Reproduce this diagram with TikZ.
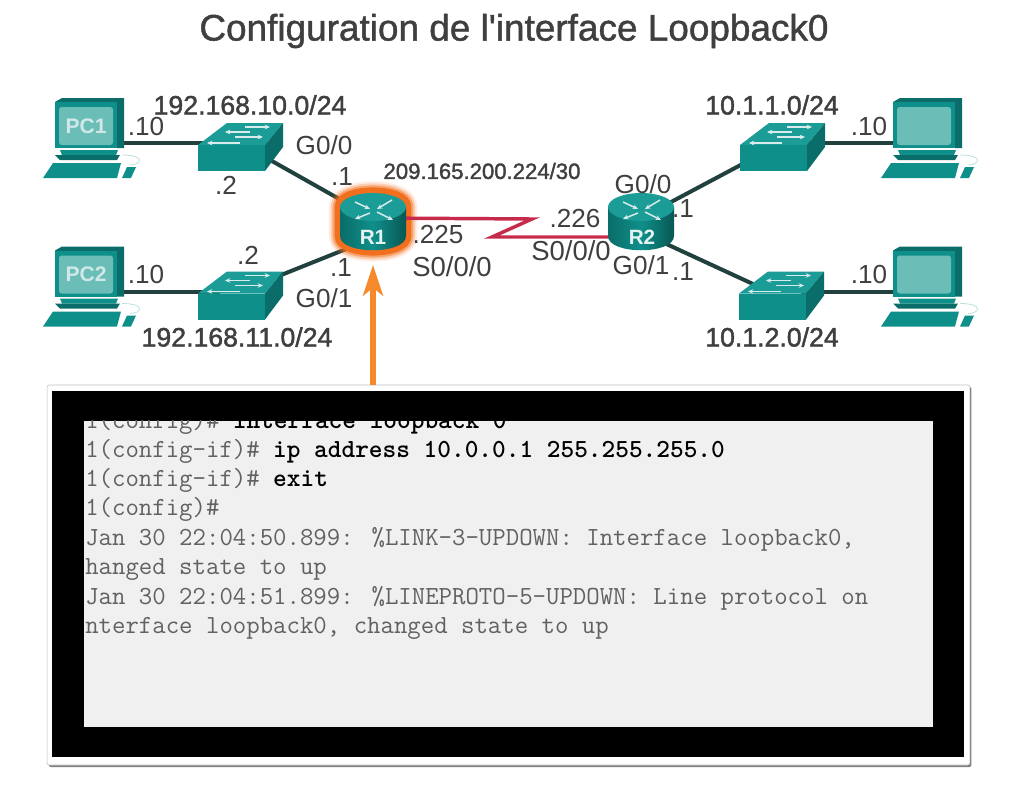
\documentclass[tikz,border=0pt]{standalone}
\usepackage{fontspec}
\setmainfont{Liberation Sans}
\newfontfamily\medfont[FakeBold=1.6]{Liberation Sans}
\newfontfamily\titlefont[FakeBold=1.2]{Liberation Sans}
\usetikzlibrary{arrows.meta,shadows}

\definecolor{tealmid}{HTML}{0F8F8A}
\definecolor{tealdark}{HTML}{0A6D69}
\definecolor{teallite}{HTML}{1C9C96}
\definecolor{tealscreen}{HTML}{6BBDB7}
\definecolor{labelgray}{HTML}{3F3F3F}
\definecolor{glow}{HTML}{F26F1E}
\definecolor{pointer}{HTML}{F58A2C}
\definecolor{serial}{HTML}{C72B4B}
\definecolor{linkgray}{HTML}{21413F}

\tikzset{
	devbox/.style={inner sep=0pt, minimum width=30pt, minimum height=20pt},
	lanlink/.style={color=linkgray, line width=3pt},
	seriallink/.style={color=serial, line width=2.6pt, line join=miter},
	addr/.style={font=\fontsize{19.6}{20}\selectfont, text=labelgray, inner sep=0pt},
	netlabel/.style={font=\medfont\fontsize{20}{20}\selectfont, text=labelgray, inner sep=0pt},
	iconlabel/.style={font=\bfseries\fontsize{15.8}{16}\selectfont, text=white!82!teal, inner sep=0pt},
	routerlabel/.style={font=\bfseries\fontsize{15.5}{16}\selectfont, text=white!90!teal, inner sep=0pt},
	termline/.style={font=\ttfamily\fontsize{19.55}{20}\selectfont, text=black!62, anchor=base west, inner sep=0pt},
	devarrow/.style={-{Stealth[length=4pt,width=3.5pt]}, white!85!teal, line width=1.1pt},
	pcicon/.pic={
		\fill[tealdark] (-33,-41) -- (-26,-45) -- (36,-45) -- (36,5) -- (29,5) -- cycle;
		\fill[tealmid] (-33,-41) rectangle (29,5);
		\fill[tealscreen, rounded corners=2pt] (-29,-36) rectangle (25,2);
		\fill[tealmid] (-28,7) -- (30,7) -- (28,12) -- (-26,12) -- cycle;
		\fill[tealdark] (-33,12) -- (32,12) -- (29,17) -- (-28,17) -- cycle;
		\fill[tealmid] (-35,20) -- (33,20) -- (29,35) -- (-45,35) -- cycle;
		\fill[tealmid] (39,24) -- (48,24) -- (43,35) -- (34,35) -- cycle;
		\draw[teallite!30, line width=0.6pt] (34,12) .. controls (58,12) and (54,22) .. (42,22);
	},
	switchicon/.pic={
		\fill[teallite] (-42,2) -- (-13,-20) -- (43,-20) -- (25,2) -- cycle;
		\fill[tealmid] (-42,2) rectangle (25,28);
		\fill[tealdark] (25,2) -- (43,-20) -- (43,4) -- (25,28) -- cycle;
		\draw[devarrow] (5,-16) -- (30,-16);
		\draw[devarrow] (10,-11) -- (-15,-11);
		\draw[devarrow] (-5,-6) -- (23,-6);
		\draw[devarrow] (0,0) -- (-33,0);
	},
	routericon/.pic={
		\shade[left color=tealdark, right color=tealdark!80!black, middle color=tealmid]
			(-33,-11) -- (-33,18) .. controls (-33,37) and (33,37) .. (33,18) -- (33,-11) -- cycle;
		\fill[teallite] (0,-11) ellipse [x radius=33, y radius=14];
		\draw[devarrow] (-18,-16) -- (-3,-9);
		\draw[devarrow] (-3,-5) -- (-18,1);
		\draw[devarrow] (19,-18) -- (4,-9);
		\draw[devarrow] (4,-6) -- (20,2);
	},
	routerglow/.pic={
		\draw[glow, opacity=0.12, line width=17pt, line join=round] (-33,-11) .. controls (-33,-30) and (33,-30) .. (33,-11) -- (33,18) .. controls (33,37) and (-33,37) .. (-33,18) -- cycle;
		\draw[glow, opacity=0.25, line width=14pt, line join=round] (-33,-11) .. controls (-33,-30) and (33,-30) .. (33,-11) -- (33,18) .. controls (33,37) and (-33,37) .. (-33,18) -- cycle;
		\draw[glow, opacity=0.45, line width=11pt, line join=round] (-33,-11) .. controls (-33,-30) and (33,-30) .. (33,-11) -- (33,18) .. controls (33,37) and (-33,37) .. (-33,18) -- cycle;
		\draw[glow, line width=8pt, line join=round] (-33,-11) .. controls (-33,-30) and (33,-30) .. (33,-11) -- (33,18) .. controls (33,37) and (-33,37) .. (-33,18) -- cycle;
	},
}

\begin{document}
\begin{tikzpicture}[x=0.75pt, y=-0.75pt]
	\useasboundingbox (0,0) rectangle (1032,796);

	% title
	\node[font=\titlefont\fontsize{27.7}{28}\selectfont, text=labelgray, inner sep=0pt] (TITLE) at (514,31) {Configuration de l'interface Loopback0};

	% devices
	\node[devbox] (PC1) at (88,143) {};
	\node[devbox] (PC2) at (88,291.5) {};
	\node[devbox] (PC3) at (926,143) {};
	\node[devbox] (PC4) at (926,291.5) {};
	\node[devbox] (SW1) at (240,143) {};
	\node[devbox] (SW2) at (240,291.5) {};
	\node[devbox] (SW3) at (782,143) {};
	\node[devbox] (SW4) at (781,291.5) {};
	\node[devbox, minimum height=30pt] (R1) at (373,218) {};
	\node[devbox, minimum height=21pt] (R2) at (641,218) {};
	\coordinate (SW4p) at (753,284);
	\coordinate (Z1) at (532,219);
	\coordinate (Z2) at (492,237);
	\coordinate (TIP) at (373,265);

	% links
	\draw[lanlink] (PC1) -- (SW1);
	\draw[lanlink] (PC2) -- (SW2);
	\draw[lanlink] (PC3) -- (SW3);
	\draw[lanlink] (PC4) -- (SW4);
	\draw[lanlink] (SW1) -- (R1);
	\draw[lanlink] (SW2) -- (R1.south);
	\draw[lanlink] (SW3) -- (R2);
	\draw[lanlink] (SW4p) -- (R2.south);
	\pic at (R1) {routerglow};
	\draw[seriallink] (R1) -- (Z1) -- (Z2) -- (Z2 -| R2);

	\pic at (PC1) {pcicon};
	\pic at (PC2) {pcicon};
	\pic at (PC3) {pcicon};
	\pic at (PC4) {pcicon};
	\pic at (SW1) {switchicon};
	\pic at (SW2) {switchicon};
	\pic at (SW3) {switchicon};
	\pic at (SW4) {switchicon};
	\pic at (R1) {routericon};
	\pic at (R2) {routericon};

	\node[iconlabel] (PC1t) at (86,126) {PC1};
	\node[iconlabel] (PC2t) at (86,274) {PC2};
	\node[routerlabel] (R1t) at (373,237) {R1};
	\node[routerlabel] (R2t) at (642,237) {R2};

	% networks
	\node[netlabel] (NET1) at (250,105) {192.168.10.0/24};
	\node[netlabel] (NET2) at (237,337) {192.168.11.0/24};
	\node[netlabel] (NET3) at (772,105) {10.1.1.0/24};
	\node[netlabel] (NET4) at (772,337) {10.1.2.0/24};
	\node[netlabel, font=\medfont\fontsize{16.6}{17}\selectfont] (NET5) at (482,171) {209.165.200.224/30};

	% addresses
	\node[addr] (A1) at (146,127) {.10};
	\node[addr] (A2) at (146,275) {.10};
	\node[addr] (A3) at (226,185) {.2};
	\node[addr] (A4) at (248,255) {.2};
	\node[addr] (A5) at (324,145) {G0/0};
	\node[addr] (A6) at (324,298) {G0/1};
	\node[addr] (A7) at (342,177) {.1};
	\node[addr] (A8) at (341,268) {.1};
	\node[addr] (A9) at (438,235) {.225};
	\node[addr, font=\fontsize{20.6}{21}\selectfont] (A10) at (452,267) {S0/0/0};
	\node[addr] (A11) at (575,219) {.226};
	\node[addr, font=\fontsize{20.6}{21}\selectfont] (A12) at (571,251) {S0/0/0};
	\node[addr] (A13) at (643,184) {G0/0};
	\node[addr] (A14) at (641,265) {G0/1};
	\node[addr] (A15) at (683,209) {.1};
	\node[addr] (A16) at (683,272) {.1};
	\node[addr] (A17) at (869,127) {.10};
	\node[addr] (A18) at (869,275) {.10};

	% console
	\node[fill=white, draw=black!25, rounded corners=1.5pt, minimum width=692pt, minimum height=285pt, inner sep=0pt, drop shadow={shadow xshift=1.2pt, shadow yshift=-1.5pt, fill=black!50, opacity=1}] (RIM) at (508.5,575) {};
	\node[fill=black, inner sep=0pt, minimum width=684pt, minimum height=274.5pt] (FRAME) at (508,574) {};
	\node[fill=black!6, inner sep=0pt, minimum width=636.75pt, minimum height=229.5pt] (SCREEN) at (508.5,574) {};
	\draw[-{Stealth[length=23pt,width=15pt,inset=6pt]}, color=pointer, line width=3.8pt] (RIM.north -| R1) -- (TIP);

	\begin{scope}
		\clip (SCREEN.north west) rectangle (SCREEN.south east);
		\node[termline] (L1) at (85,428) {1(config)\# \textcolor{black}{\bfseries interface loopback 0}};
	\end{scope}
	\node[termline] (L2) at (85,457.5) {1(config-if)\# \textcolor{black}{\bfseries ip address 10.0.0.1 255.255.255.0}};
	\node[termline] (L3) at (85,486.5) {1(config-if)\# \textcolor{black}{\bfseries exit}};
	\node[termline] (L4) at (85,515.5) {1(config)\#};
	\node[termline] (L5) at (85,545) {Jan 30 22:04:50.899: \%LINK-3-UPDOWN: Interface loopback0,};
	\node[termline] (L6) at (85,574.5) {hanged state to up};
	\node[termline] (L7) at (85,604) {Jan 30 22:04:51.899: \%LINEPROTO-5-UPDOWN: Line protocol on};
	\node[termline] (L8) at (85,633) {nterface loopback0, changed state to up};
\end{tikzpicture}
\end{document}
